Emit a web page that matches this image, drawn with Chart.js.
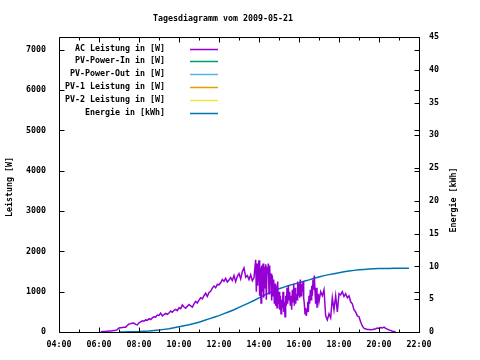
<!DOCTYPE html>
<html><head><meta charset="utf-8">
<script src="https://cdn.jsdelivr.net/npm/chart.js@4/dist/chart.umd.min.js"></script>
<style>html,body{margin:0;padding:0;background:#fff;}canvas{display:block;}</style>
</head><body>
<canvas id="c" width="480" height="360"></canvas>
<script>
const chartTitle = "Tagesdiagramm vom 2009-05-21";
const leftAxisTitle = "Leistung [W]";
const rightAxisTitle = "Energie [kWh]";
const seriesNames = ["AC Leistung in [W]", "PV-Power-In in [W]", "PV-Power-Out in [W]", "PV-1 Leistung in [W]", "PV-2 Leistung in [W]", "Energie in [kWh]"];
const seriesColors = ["#9400d3", "#009e73", "#56b4e9", "#e69f00", "#f0e442", "#0072b2"];
const xTickHours = [4, 6, 8, 10, 12, 14, 16, 18, 20, 22];
const xMinorHours = [5, 7, 9, 11, 13, 15, 17, 19, 21];
const leftTicks = [0, 1000, 2000, 3000, 4000, 5000, 6000, 7000];
const rightTicks = [0, 5, 10, 15, 20, 25, 30, 35, 40, 45];

const acTimes = ["06:05","06:10","06:15","06:20","06:25","06:30","06:35","06:40","06:45","06:50","06:55",
"07:00","07:05","07:10","07:15","07:20","07:25","07:30","07:35","07:40","07:45","07:50","07:55",
"08:00","08:05","08:10","08:15","08:20","08:25","08:30","08:35","08:40","08:45","08:50","08:55",
"09:00","09:05","09:10","09:15","09:20","09:25","09:30","09:35","09:40","09:45","09:50","09:55",
"10:00","10:05","10:10","10:15","10:20","10:25","10:30","10:35","10:40","10:45","10:50","10:55",
"11:00","11:05","11:10","11:15","11:20","11:25","11:30","11:35","11:40","11:45","11:50","11:55",
"12:00","12:05","12:10","12:15","12:20","12:25","12:30","12:35","12:40","12:45","12:50","12:55",
"13:00","13:05","13:10","13:15","13:20","13:25","13:30","13:35","13:40","13:45","13:50",
"13:52","13:54","13:56","13:58","14:00","14:02","14:04","14:06","14:08","14:10","14:12","14:14","14:16","14:18",
"14:20","14:22","14:24","14:26","14:28","14:30","14:32","14:34","14:36","14:38","14:40","14:42","14:44","14:46","14:48",
"14:50","14:52","14:54","14:56","14:58","15:00","15:02","15:04","15:06","15:08","15:10","15:12","15:14","15:16","15:18",
"15:20","15:22","15:24","15:26","15:28","15:30","15:32","15:34","15:36","15:38","15:40","15:42","15:44","15:46","15:48",
"15:50","15:52","15:54","15:56","15:58","16:00","16:02","16:04","16:06","16:08","16:10","16:12","16:14","16:16","16:18",
"16:20","16:22","16:24","16:26","16:28","16:30","16:32","16:34","16:36","16:38","16:40","16:42","16:44","16:46","16:48",
"16:50","16:52","16:54","16:56","16:58","17:00","17:05","17:10","17:15","17:20","17:25","17:30","17:35","17:40","17:45",
"17:50","17:55","18:00","18:05","18:10","18:15","18:20","18:25","18:30","18:35","18:40","18:45","18:50","18:55",
"19:00","19:05","19:10","19:15","19:20","19:25","19:30","19:35","19:40","19:45","19:50","19:55",
"20:00","20:05","20:10","20:15","20:20","20:25","20:30","20:35","20:40","20:45","20:50"];
const acWatts = [0,10,15,15,20,25,25,30,40,45,60,
100,105,110,115,120,160,200,205,220,215,190,175,
230,250,280,270,300,290,330,310,350,380,370,420,
410,470,400,430,460,440,470,520,490,540,560,530,
600,580,670,620,590,640,680,650,620,700,760,720,
790,850,820,900,960,880,980,1010,1090,1140,1100,1180,
1170,1220,1300,1260,1330,1240,1290,1350,1280,1400,1250,1380,
1450,1320,1500,1590,1360,1400,1300,1420,1270,1350,1790,
1000,1700,1150,1650,1780,900,1600,720,1650,1000,1700,850,1620,1100,
1680,800,1550,1500,1700,950,1650,1200,1450,780,1400,900,1300,700,1200,
650,1150,600,1250,700,1000,550,900,450,800,600,1000,500,750,380,
900,650,1100,700,1150,800,1000,650,900,550,1050,750,1200,650,1100,
700,950,800,1250,900,1200,850,1300,900,1200,1000,1250,850,700,450,
600,400,550,750,500,900,700,1050,800,1150,900,1300,1050,1400,1000,
700,1100,600,800,950,750,1000,900,1050,400,300,450,350,850,550,
900,500,950,920,1000,880,950,850,900,750,700,550,500,400,
380,250,150,90,80,60,60,55,60,70,80,100,
90,110,100,120,90,70,50,40,20,10,0];

const energyTimes = ["07:00","07:15","07:30","07:45","08:00","08:15","08:30","08:45","09:00","09:15","09:30","09:45",
"10:00","10:15","10:30","10:45","11:00","11:15","11:30","11:45","12:00","12:15","12:30","12:45",
"13:00","13:15","13:30","13:45","14:00","14:15","14:30","14:45","15:00","15:15","15:30","15:45",
"16:00","16:15","16:30","16:45","17:00","17:15","17:30","17:45","18:00","18:15","18:30","18:45",
"19:00","19:15","19:30","19:45","20:00","20:15","20:30","20:45","21:00","21:15","21:30"];
const energyKWh = [0,0,0.02,0.04,0.06,0.1,0.15,0.22,0.3,0.4,0.5,0.65,
0.8,0.95,1.1,1.3,1.5,1.75,2.0,2.25,2.5,2.8,3.1,3.4,
3.75,4.1,4.45,4.8,5.2,5.6,5.95,6.3,6.6,6.85,7.1,7.3,
7.5,7.75,7.95,8.2,8.4,8.6,8.75,8.9,9.05,9.2,9.3,9.4,
9.5,9.55,9.6,9.65,9.68,9.7,9.7,9.71,9.72,9.72,9.72];

const FONT_FAMILY = '"DejaVu Sans Mono", "Liberation Mono", monospace';
const FONT_SIZE = 8.3;
const FONT_STR = 'bold ' + FONT_SIZE + 'px ' + FONT_FAMILY;

function toHours(t) { const p = t.split(':'); return (+p[0]) + (+p[1]) / 60; }
function pad2(n) { return (n < 10 ? '0' : '') + n; }

const datasets = seriesNames.map((name, i) => ({
  label: name,
  data: [],
  borderColor: seriesColors[i],
  backgroundColor: seriesColors[i],
  borderWidth: 1.5,
  pointRadius: 0,
  tension: 0,
  fill: false,
  yAxisID: i === 5 ? 'y2' : 'y'
}));
datasets[0].data = acTimes.map((t, k) => ({x: toHours(t), y: acWatts[k]}));
datasets[5].data = energyTimes.map((t, k) => ({x: toHours(t), y: energyKWh[k]}));

const framePlugin = {
  id: 'frame',
  afterDraw(chart) {
    const {ctx, chartArea: a, scales} = chart;
    const L = Math.round(a.left) + 0.5, R = Math.round(a.right) + 0.5;
    const T = Math.round(a.top) + 0.5, B = Math.round(a.bottom) + 0.5;
    ctx.save();
    ctx.strokeStyle = '#000';
    ctx.lineWidth = 1;
    ctx.beginPath();
    ctx.rect(L, T, R - L, B - T);
    xTickHours.forEach(h => {
      const x = Math.round(scales.x.getPixelForValue(h)) + 0.5;
      ctx.moveTo(x, B); ctx.lineTo(x, B - 5);
      ctx.moveTo(x, T); ctx.lineTo(x, T + 5);
    });
    xMinorHours.forEach(h => {
      const x = Math.round(scales.x.getPixelForValue(h)) + 0.5;
      ctx.moveTo(x, B); ctx.lineTo(x, B - 3);
      ctx.moveTo(x, T); ctx.lineTo(x, T + 3);
    });
    leftTicks.forEach(v => {
      const y = Math.round(scales.y.getPixelForValue(v)) + 0.5;
      ctx.moveTo(L, y); ctx.lineTo(L + 5, y);
      ctx.moveTo(R, y); ctx.lineTo(R - 5, y);
    });
    rightTicks.forEach(v => {
      const y = Math.round(scales.y2.getPixelForValue(v)) + 0.5;
      ctx.moveTo(R, y); ctx.lineTo(R - 5, y);
    });
    ctx.stroke();

    ctx.fillStyle = '#000';
    ctx.font = FONT_STR;
    ctx.textBaseline = 'middle';
    ctx.textAlign = 'center';
    ctx.fillText(chartTitle, 223, 19);
    chart.data.datasets.forEach((ds, i) => {
      const y = 48.5 + i * 12.8;
      ctx.textAlign = 'right';
      ctx.fillStyle = '#000';
      ctx.fillText(ds.label, 165, y);
      ctx.strokeStyle = ds.borderColor;
      ctx.lineWidth = 1.5;
      ctx.beginPath();
      ctx.moveTo(190, Math.round(y) + 0.5);
      ctx.lineTo(218, Math.round(y) + 0.5);
      ctx.stroke();
    });
    ctx.fillStyle = '#000';
    ctx.textAlign = 'center';
    ctx.save();
    ctx.translate(10, 187);
    ctx.rotate(-Math.PI / 2);
    ctx.fillText(leftAxisTitle, 0, 0);
    ctx.restore();
    ctx.save();
    ctx.translate(454, 200);
    ctx.rotate(-Math.PI / 2);
    ctx.fillText(rightAxisTitle, 0, 0);
    ctx.restore();
    ctx.restore();
  }
};

const tickFont = {family: FONT_FAMILY, size: FONT_SIZE, weight: 'bold'};

new Chart(document.getElementById('c'), {
  type: 'line',
  data: {datasets},
  plugins: [framePlugin],
  options: {
    responsive: false,
    animation: false,
    devicePixelRatio: 1,
    layout: {padding: {top: 37, left: 0, right: 0, bottom: 0}},
    plugins: {legend: {display: false}, title: {display: false}, tooltip: {enabled: false}},
    scales: {
      x: {
        type: 'linear', min: 4, max: 22,
        grid: {display: false, drawTicks: false},
        border: {display: false},
        afterBuildTicks: s => { s.ticks = xTickHours.map(v => ({value: v})); },
        afterFit: s => { s.height = 28; },
        ticks: {color: '#000', font: tickFont, padding: 8, maxRotation: 0, autoSkip: false,
          callback: v => pad2(v) + ':00'}
      },
      y: {
        type: 'linear', position: 'left', min: 0, max: 7320,
        grid: {display: false, drawTicks: false},
        border: {display: false},
        afterBuildTicks: s => { s.ticks = leftTicks.map(v => ({value: v})); },
        afterFit: s => { s.width = 59; },
        ticks: {color: '#000', font: tickFont, padding: 13, callback: v => String(v)}
      },
      y2: {
        type: 'linear', position: 'right', min: 0, max: 45,
        grid: {display: false, drawTicks: false},
        border: {display: false},
        afterBuildTicks: s => { s.ticks = rightTicks.map(v => ({value: v})); },
        afterFit: s => { s.width = 61; },
        ticks: {color: '#000', font: tickFont, padding: 10, callback: v => String(v)}
      }
    }
  }
});
</script>
</body></html>
